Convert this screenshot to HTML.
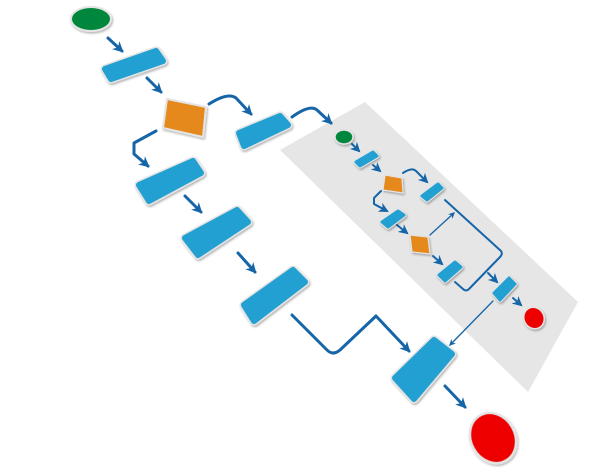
<!DOCTYPE html>
<html><head><meta charset="utf-8"><style>html,body{margin:0;padding:0;background:#fff}svg{display:block}</style></head>
<body>
<svg width="600" height="475" viewBox="0 0 600 475" xmlns="http://www.w3.org/2000/svg">
<defs>
<marker id="a" viewBox="0 0 10 10" refX="8" refY="5" markerWidth="3.6" markerHeight="3.6" orient="auto"><path d="M0,0 L10,5 L0,10 L3,5 z" fill="#1565a8"/></marker>
<marker id="b" viewBox="0 0 10 10" refX="8" refY="5" markerWidth="5" markerHeight="5" orient="auto"><path d="M0,0 L10,5 L0,10 L3,5 z" fill="#1565a8"/></marker>
<filter id="s" x="-20%" y="-20%" width="140%" height="140%"><feDropShadow dx="1" dy="1.5" stdDeviation="1" flood-color="#000" flood-opacity="0.3"/></filter>
<polygon id="r1" points="105,69 156,51 163,61 111,79"/>
<polygon id="r2" points="239,133 280,116 288,125 244,146"/>
<polygon id="r3" points="139,185 193,161 201,173 149,201"/>
<polygon id="r4" points="185,238 237,210 248,222 198,255"/>
<polygon id="r5" points="244,305 293,270 305,282 254,321"/>
<polygon id="r6" points="395,378 434,340 452,354 414,399"/>
<polygon id="a1" points="356,162 373,152 377,156 360,166"/>
<polygon id="a2" points="422,196 438,184 442,188 427,200"/>
<polygon id="a3" points="382,222 398,211 404,215 388,227"/>
<polygon id="a4" points="439,275 455,262 461,267 445,281"/>
<polygon id="a5" points="494,293 509,278 515,284 500,300"/>
</defs>
<polygon points="280,150 365,102 578,302 528,392" fill="#e6e6e6"/>
<g fill="none" stroke="#1565a8" stroke-linecap="round" stroke-linejoin="round">
<g stroke-width="3" marker-end="url(#a)">
<path d="M108,38 L122,51"/>
<path d="M147,78 L161,92"/>
<path d="M209,104 Q228,92 236,98 L251,114"/>
<path d="M292,117 Q310,104 317,110 L331,123"/>
<path d="M156,131 L134,143 L134,154 L148,166"/>
<path d="M185,196 L201,212"/>
<path d="M238,253 L255,272"/>
<path d="M292,315 L327,350 Q333,356 340,350 L376,316 L409,351"/>
<path d="M445,386 L465,407"/>
</g>
<g stroke-width="2" marker-end="url(#b)">
<path d="M352,144 L359,151"/>
<path d="M373,165 L380,171"/>
<path d="M403,173 Q412,167 416,171 L427,182"/>
<path d="M381,191 L374,198 L374,204 L387,211"/>
<path d="M397,225 L407,233"/>
<path d="M433,256 L442,264"/>
<path d="M488,273 L497,282"/>
<path d="M513,298 L521,305"/>
</g>
<path d="M445,200 L501,251 Q503,254 500,257 L469,289 Q466,292 463,289 L455,282" stroke-width="2"/>
<g stroke-width="1.3" marker-end="url(#b)">
<path d="M430,235 L454,213"/>
<path d="M493,301 L450,345"/>
</g>
</g>
<g filter="url(#s)" stroke-linejoin="round">
<ellipse cx="91" cy="19" rx="20" ry="12" fill="#00873c" stroke="#e4e4e4" stroke-width="2"/>
<polygon points="167,99 206,107 203,137 163,128" fill="#e6891e" stroke="#e4e4e4" stroke-width="2" stroke-linejoin="miter"/>
<ellipse cx="493" cy="438" rx="22" ry="26" transform="rotate(-30 493 438)" fill="#ee0000" stroke="#e4e4e4" stroke-width="2.5"/>
<ellipse cx="344" cy="137" rx="9" ry="7" fill="#00873c" stroke="#e4e4e4" stroke-width="1.5"/>
<polygon points="385,175 402,178 403,193 383,190" fill="#e6891e" stroke="#e4e4e4" stroke-width="1.2" stroke-linejoin="miter"/>
<polygon points="410,235 428,237 430,254 412,252" fill="#e6891e" stroke="#e4e4e4" stroke-width="1.2" stroke-linejoin="miter"/>
<ellipse cx="534" cy="318" rx="10" ry="11" transform="rotate(-30 534 318)" fill="#ee0000" stroke="#e4e4e4" stroke-width="1.5"/>
<g fill="#e4e4e4" stroke="#e4e4e4" stroke-width="9">
<use href="#r1"/><use href="#r2"/><use href="#r3"/><use href="#r4"/><use href="#r5"/><use href="#r6"/>
</g>
<g fill="#e4e4e4" stroke="#e4e4e4" stroke-width="5">
<use href="#a1"/><use href="#a2"/><use href="#a3"/><use href="#a4"/><use href="#a5"/>
</g>
</g>
<g fill="#23a0d2" stroke="#23a0d2" stroke-linejoin="round">
<g stroke-width="6"><use href="#r1"/><use href="#r2"/><use href="#r3"/><use href="#r4"/><use href="#r5"/><use href="#r6"/></g>
<g stroke-width="3"><use href="#a1"/><use href="#a2"/><use href="#a3"/><use href="#a4"/><use href="#a5"/></g>
</g>
</svg>
</body></html>
